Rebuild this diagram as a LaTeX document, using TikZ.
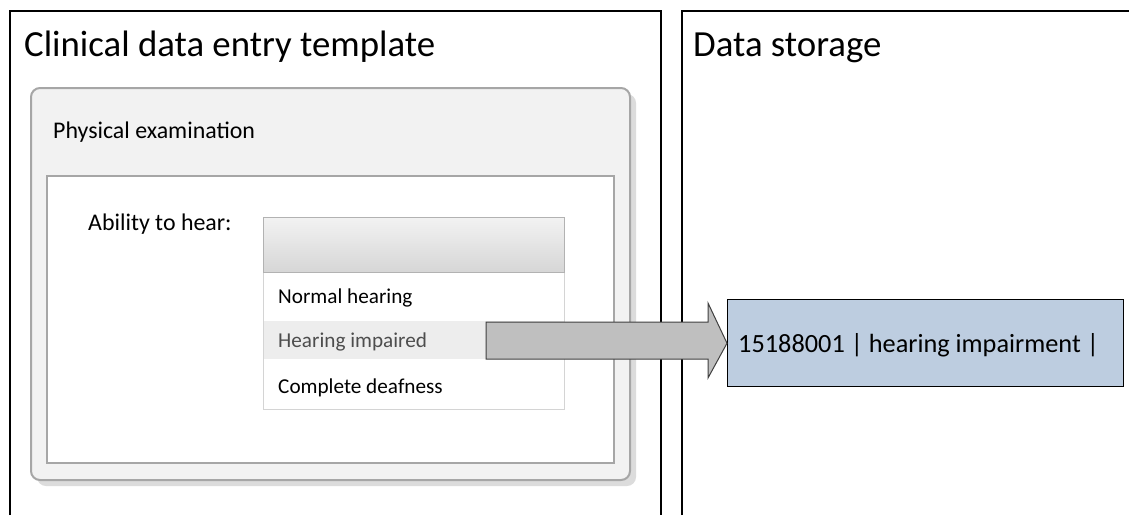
\documentclass[tikz,border=0pt]{standalone}
\usepackage{fontspec}
\setmainfont{Carlito}
\usetikzlibrary{calc}
\definecolor{panelfill}{HTML}{F2F2F2}
\definecolor{panelline}{HTML}{A6A6A6}
\definecolor{shadowc}{HTML}{DCDCDC}
\definecolor{listline}{HTML}{D4D4D4}
\definecolor{hilite}{HTML}{EDEDED}
\definecolor{storefill}{RGB}{189,205,224}
\definecolor{arrowfill}{HTML}{BFBFBF}
\definecolor{arrowline}{HTML}{404040}
\definecolor{greytext}{HTML}{4D4D4D}
\tikzset{
  frame/.style={draw=black, line width=1.4pt},
  txt/.style={anchor=base west, inner sep=0pt, text=black},
  bigtxt/.style={txt, font=\fontsize{36.8}{40}\selectfont},
  midtxt/.style={txt, font=\fontsize{23.9}{28}\selectfont},
  itemtxt/.style={txt, font=\fontsize{21.2}{25}\selectfont},
  storetxt/.style={txt, font=\fontsize{26.3}{30}\selectfont},
  blockarrow/.style={draw=arrowline, fill=arrowfill, line width=1pt, line join=miter},
  storebox/.style={draw=black, fill=storefill, line width=1.4pt, inner sep=0pt, anchor=north west}
}
\begin{document}
\begin{tikzpicture}[x=1pt, y=-1pt]
\useasboundingbox (0,0) rectangle (1129,515);
\fill[white] (0,0) rectangle (1129,515);

% panel frames (open at the bottom / right)
\draw[frame] (10,515) -- (10,11) -- (661,11) -- (661,515);
\draw[frame] (682,515) -- (682,11) -- (1129,11);
\node[bigtxt] (t1) at (24,56) {Clinical data entry template};
\node[bigtxt] (t2) at (693,56) {Data storage};

% physical examination panel
\fill[shadowc, rounded corners=9pt] (37,94) rectangle (636,486);
\draw[draw=panelline, fill=panelfill, line width=2pt, rounded corners=9pt] (31,88) rectangle (630,480);
\node[midtxt] (pe) at (53,138) {Physical examination};
\draw[draw=panelline, fill=white, line width=1.5pt] (47,176) rectangle (614,463);
\node[midtxt] (ab) at (88,230) {Ability to hear:};

% dropdown
\fill[white] (263,272) rectangle (564,409);
\fill[hilite] (263,321) rectangle (564,359);
\draw[listline, line width=1pt] (263,272) rectangle (564,409);
\shade[top color=white!95!black, bottom color=white!84!black] (263,217) rectangle (564,272);
\draw[draw=white!70!black, line width=1pt] (263,217) rectangle (564,272);
\node[itemtxt] (i1) at (278,303) {Normal hearing};
\node[itemtxt, text=greytext] (i2) at (278,347) {Hearing impaired};
\node[itemtxt] (i3) at (278,393) {Complete deafness};

% data storage box
\node[storebox, minimum width=396pt, minimum height=87pt] (store) at (727,299) {};
\node[storetxt] (st) at (738,352) {15188001 | hearing impairment |};

% block arrow
\coordinate (astart) at (486,322);
\draw[blockarrow] (astart) -- (708,322) -- (708,303) -- (store.west) -- (708,378) -- (708,359) -- (486,359) -- cycle;
\end{tikzpicture}
\end{document}
